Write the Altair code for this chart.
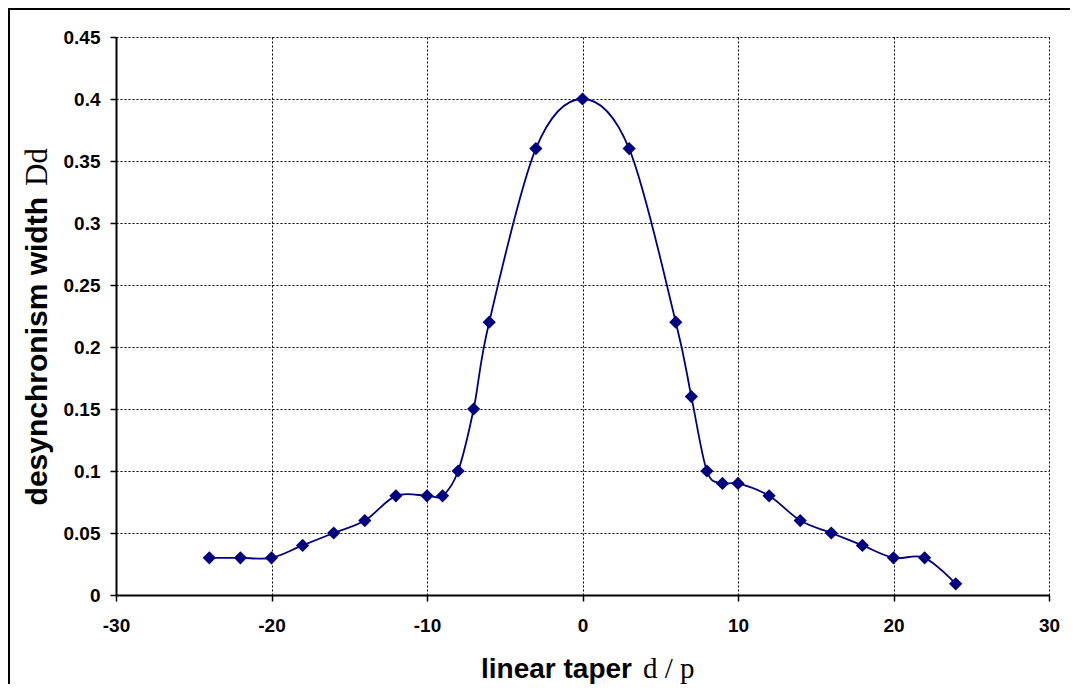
import altair as alt
import pandas as pd

# data
taper = [-24, -22, -20, -18, -16, -14, -12, -10, -9, -8, -7, -6, -3, 0,
         3, 6, 7, 8, 9, 10, 12, 14, 16, 18, 20, 22, 24]
width = [0.03, 0.03, 0.03, 0.04, 0.05, 0.06, 0.08, 0.08, 0.08, 0.10, 0.15, 0.22, 0.36, 0.40,
         0.36, 0.22, 0.16, 0.10, 0.09, 0.09, 0.08, 0.06, 0.05, 0.04, 0.03, 0.03, 0.009]
x_ticks = [-30, -20, -10, 0, 10, 20, 30]
y_ticks = [0, 0.05, 0.1, 0.15, 0.2, 0.25, 0.3, 0.35, 0.4, 0.45]

df = pd.DataFrame({"taper": taper, "width": width})

W, H = 933, 558
PAD_L, PAD_T = 108, 29
TOTAL_W, TOTAL_H = 1062, 676
NAVY = "#000080"

xs = alt.Scale(domain=[-30, 30], nice=False, zero=False)
ys = alt.Scale(domain=[0, 0.45], nice=False)

base = alt.Chart(df)

xaxis = alt.Axis(values=x_ticks, title=None, labelExpr="'' + datum.value",
                 labelPadding=15, grid=True, labelFlush=False)
yaxis = alt.Axis(values=y_ticks, title=None, labelExpr="'' + datum.value",
                 labelPadding=10, grid=True)

line = base.mark_line(color=NAVY, strokeWidth=1.8, interpolate="cardinal").encode(
    x=alt.X("taper:Q", scale=xs, axis=xaxis),
    y=alt.Y("width:Q", scale=ys, axis=yaxis),
)
pts = base.mark_point(shape="diamond", filled=True, color=NAVY, size=175, opacity=1).encode(
    x=alt.X("taper:Q", scale=xs),
    y=alt.Y("width:Q", scale=ys),
)

one = alt.Data(values=[{"a": 1}])

border_left = alt.Chart(one).mark_rule(color="black", strokeWidth=2).encode(
    x=alt.value(-107), y=alt.value(-28), y2=alt.value(TOTAL_H - PAD_T))
border_top = alt.Chart(one).mark_rule(color="black", strokeWidth=2).encode(
    x=alt.value(-108), x2=alt.value(TOTAL_W - PAD_L), y=alt.value(-28))

ytitle_a = alt.Chart(one).mark_text(
    text="desynchronism width", font="Liberation Sans", fontWeight="bold", fontSize=30,
    angle=270, align="right", baseline="alphabetic", color="black").encode(
    x=alt.value(47 - 116), y=alt.value(197 - 37))
ytitle_b = alt.Chart(one).mark_text(
    text="Dd", font="Liberation Serif", fontSize=31,
    angle=270, align="left", baseline="alphabetic", color="black").encode(
    x=alt.value(47 - 116), y=alt.value(186 - 37))

xtitle_a = alt.Chart(one).mark_text(
    text="linear taper", font="Liberation Sans", fontWeight="bold", fontSize=28,
    align="right", baseline="alphabetic", color="black").encode(
    x=alt.value(632 - 116), y=alt.value(678 - 37))
xtitle_b = alt.Chart(one).mark_text(
    text="d / p", font="Liberation Serif", fontSize=29,
    align="left", baseline="alphabetic", color="black").encode(
    x=alt.value(643 - 116), y=alt.value(678 - 37))

chart = alt.layer(
    line, pts, border_left, border_top, ytitle_a, ytitle_b, xtitle_a, xtitle_b
).properties(
    width=W, height=H,
    padding={"left": PAD_L, "top": PAD_T, "right": TOTAL_W - PAD_L - W, "bottom": TOTAL_H - PAD_T - H},
    autosize=alt.AutoSizeParams(type="none"),
    background="white",
).configure_view(strokeWidth=0).configure_axis(
    domainColor="black", domainWidth=2, tickColor="black", tickSize=6, tickWidth=1.5,
    gridColor="black", gridDash=[2, 2], gridWidth=1, gridOpacity=1,
    labelFont="Liberation Sans", labelFontWeight="bold", labelFontSize=19, labelColor="black",
)

chart.save("out.html", embed_options={"renderer": "svg", "actions": False})
